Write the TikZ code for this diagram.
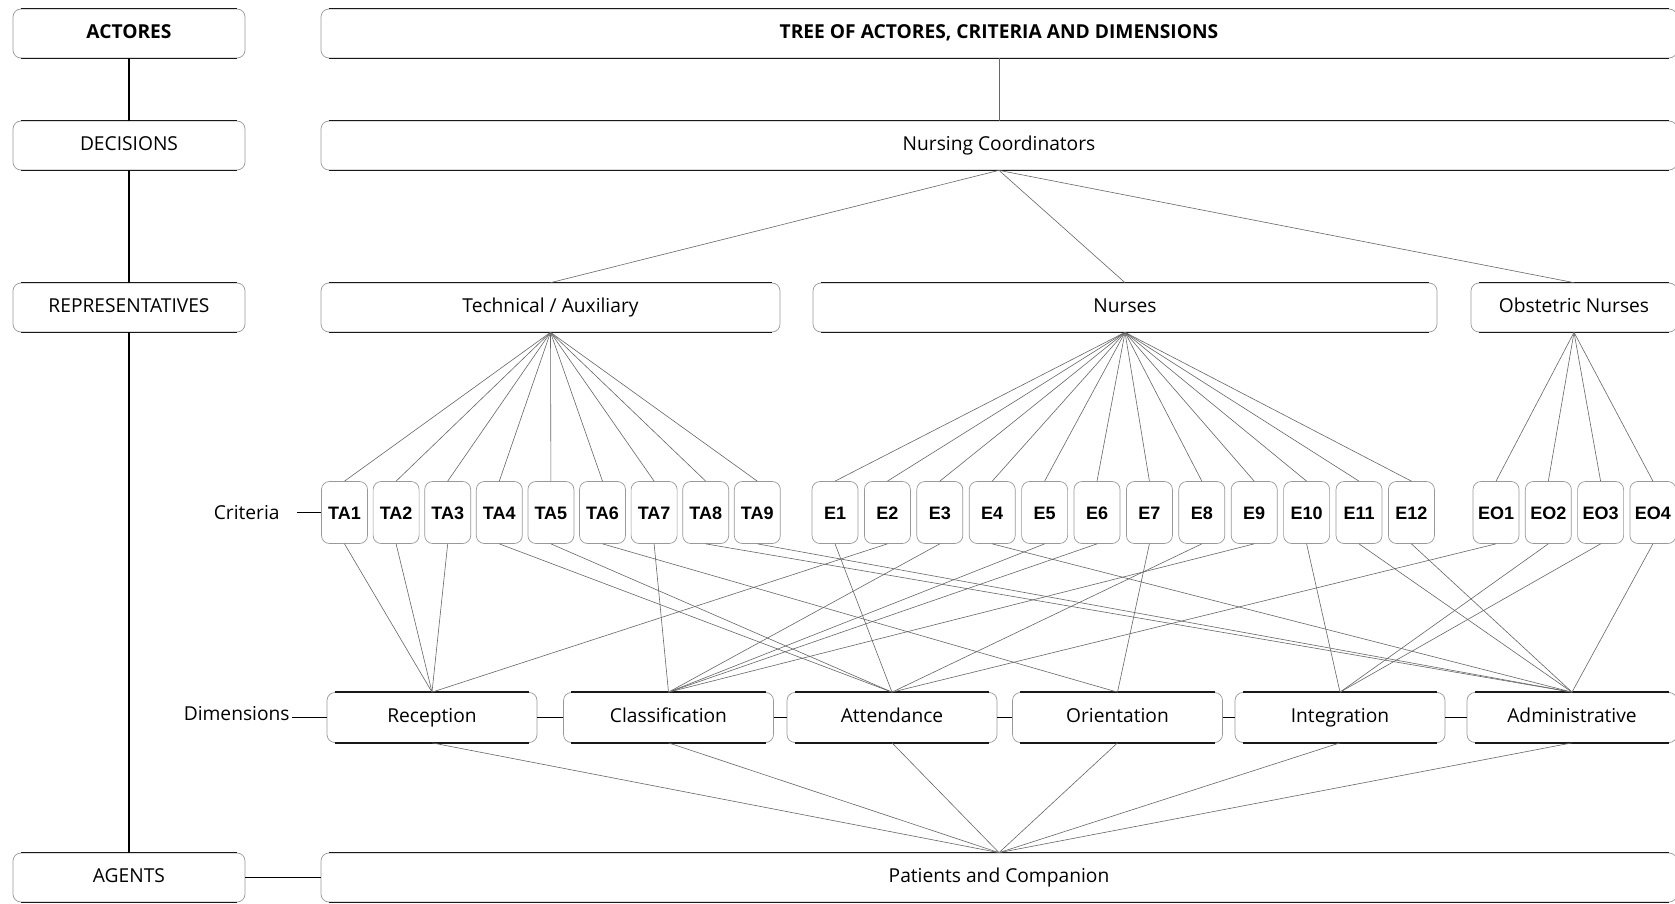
\documentclass[tikz,border=0pt]{standalone}
\usepackage{fontspec}
\setmainfont{Open Sans}
\newfontfamily\critfont{Liberation Sans}
\begin{document}
\begin{tikzpicture}[x=0.5pt,y=-0.5pt,
  box/.style={draw=black!40, line width=0.35pt, rounded corners=4pt, inner sep=0pt,
    minimum height=24.5pt, text height=7.2pt, text depth=2.6pt,
    font=\fontsize{9.6}{11}\selectfont},
  crit/.style={box, minimum width=23pt, minimum height=31pt, text height=6.6pt, text depth=0pt,
    font=\critfont\bfseries\fontsize{9}{10}\selectfont},
  dim/.style={box, minimum width=105pt, minimum height=25pt},
  tree/.style={draw=black!60, line width=0.3pt},
  link/.style={draw=black, line width=0.8pt},
  edgeline/.style={draw=black!90, line width=0.8pt},
  lab/.style={inner sep=1pt, font=\fontsize{9.6}{11}\selectfont}
]
\useasboundingbox (0,0) rectangle (1675,904);
\fill[white] (0,0) rectangle (1675,904);
\begin{scope}
\clip (0,0) rectangle (1675,904);
% left column
\node[box, minimum width=116pt] (act) at (129,33.5) {\bfseries ACTORES};
\node[box, minimum width=116pt] (dec) at (129,145.5) {DECISIONS};
\node[box, minimum width=116pt] (rep) at (129,307.5) {REPRESENTATIVES};
\node[box, minimum width=116pt] (agt) at (129,877.5) {AGENTS};
% right boxes
\node[box, minimum width=678pt] (tree) at (999,33.5) {\bfseries TREE OF ACTORES, CRITERIA AND DIMENSIONS};
\node[box, minimum width=678pt] (nc) at (999,145.5) {Nursing Coordinators};
\node[box, minimum width=229.5pt] (tech) at (550.5,307.5) {Technical / Auxiliary};
\node[box, minimum width=312pt] (nur) at (1125,307.5) {Nurses};
\node[box, minimum width=103pt] (obs) at (1574,307.5) {Obstetric Nurses};
\node[box, minimum width=678pt] (pat) at (999,877.5) {Patients and Companion};
% criteria
\foreach \i in {1,...,9} \node[crit] (TA\i) at ({344.5+51.6*(\i-1)},512.5) {TA\i};
\foreach \i in {1,...,12} \node[crit] (E\i) at ({835+52.4*(\i-1)},512.5) {E\i};
\foreach \i in {1,...,4} \node[crit] (EO\i) at ({1496+52.3*(\i-1)},512.5) {EO\i};
% dimensions
\node[dim] (rec) at (432,717.5) {Reception};
\node[dim] (cla) at (668.5,717.5) {Classification};
\node[dim] (att) at (892,717.5) {Attendance};
\node[dim] (ori) at (1117.5,717.5) {Orientation};
\node[dim] (int) at (1340,717.5) {Integration};
\node[dim] (adm) at (1572,717.5) {Administrative};
% labels
\node[lab, anchor=east] (critlab) at (282,512.5) {Criteria};
\coordinate (critl) at (297,512.5);
\node[lab, anchor=east] (dimlab) at (292,714) {Dimensions};
% top/bottom edges of boxes
\foreach \n in {act,dec,rep,agt,tree,nc,tech,nur,obs,pat,rec,cla,att,ori,int,adm}
  \draw[edgeline] ([xshift=4pt]\n.north west) -- ([xshift=-4pt]\n.north east)
                  ([xshift=4pt]\n.south west) -- ([xshift=-4pt]\n.south east);
% left column links
\draw[link] (act.south) -- (dec.north);
\draw[link] (dec.south) -- (rep.north);
\draw[link] (rep.south) -- (agt.north);
\draw[link] (agt.east) -- (pat.west);
\draw[link] (critl) -- (TA1.west);
\draw[link] (dimlab.east |- rec.west) -- (rec.west);
\draw[link] (rec.east) -- (cla.west);
\draw[link] (cla.east) -- (att.west);
\draw[link] (att.east) -- (ori.west);
\draw[link] (ori.east) -- (int.west);
\draw[link] (int.east) -- (adm.west);
% tree
\draw[tree] (tree.south) -- (nc.north);
\foreach \t in {tech,nur,obs} \draw[tree] (nc.south) -- (\t.north);
\foreach \i in {1,...,9} \draw[tree] (tech.south) -- (TA\i.north);
\foreach \i in {1,...,12} \draw[tree] (nur.south) -- (E\i.north);
\foreach \i in {1,...,4} \draw[tree] (obs.south) -- (EO\i.north);
\foreach \a/\b in {TA1/rec,TA2/rec,TA3/rec,E2/rec,
                   TA7/cla,E3/cla,E5/cla,E6/cla,E9/cla,
                   TA4/att,TA5/att,E1/att,E8/att,EO1/att,
                   TA6/ori,E7/ori,
                   E10/int,EO2/int,EO3/int,
                   TA8/adm,TA9/adm,E4/adm,E11/adm,E12/adm,EO4/adm}
  \draw[tree] (\a.south) -- (\b.north);
\foreach \d in {rec,cla,att,ori,int,adm} \draw[tree] (\d.south) -- (pat.north);
\end{scope}
\end{tikzpicture}
\end{document}
